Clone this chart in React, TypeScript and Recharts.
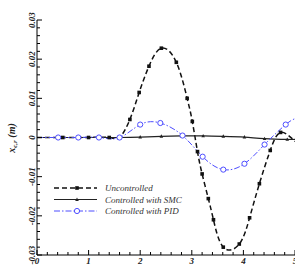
import { Line, LineChart, XAxis, YAxis } from "recharts";

// tick positions (major every 1 / 0.01, minor in between)
const X_TICKS = [0, 0.2, 0.4, 0.6, 0.8, 1, 1.2, 1.4, 1.6, 1.8, 2, 2.2, 2.4, 2.6, 2.8, 3, 3.2, 3.4, 3.6, 3.8, 4, 4.2, 4.4, 4.6, 4.8, 5];
const Y_TICKS = [
    -0.03, -0.028, -0.026, -0.024, -0.022, -0.02, -0.018, -0.016, -0.014, -0.012, -0.01,
    -0.008, -0.006, -0.004, -0.002, 0, 0.002, 0.004, 0.006, 0.008, 0.01,
    0.012, 0.014, 0.016, 0.018, 0.02, 0.022, 0.024, 0.026, 0.028, 0.03,
];

const UNCONTROLLED_T = [0, 0.5, 1.0, 1.4, 1.6, 1.8, 1.98, 2.17, 2.41, 2.7, 2.91, 3.01, 3.11, 3.2, 3.32, 3.42, 3.61, 3.92, 4.12, 4.31, 4.52, 4.72, 5.0];
const UNCONTROLLED_X = [0, 0, 0, 0, 0, 0.0046, 0.0115, 0.0182, 0.0228, 0.0192, 0.01, 0.0041, -0.0036, -0.0093, -0.0156, -0.021, -0.028, -0.0272, -0.0205, -0.0118, -0.0033, 0.0013, -0.001];

const SMC_T = [0, 0.4, 0.8, 1.2, 1.6, 2.0, 2.41, 2.8, 3.22, 3.61, 4.02, 4.41, 4.85, 5.0];
const SMC_X = [0, 0, 0, 0, 0, 0.0001, 0.0003, 0.0004, 0.0004, 0.0003, 0.0001, -0.0003, -0.0005, -0.0005];

const PID_T = [0, 0.41, 0.8, 1.2, 1.6, 2.0, 2.39, 2.82, 3.21, 3.61, 4.02, 4.41, 4.82, 5.0];
const PID_X = [0, 0, 0, 0, 0, 0.0033, 0.0037, 0.0005, -0.0049, -0.0082, -0.0067, -0.0018, 0.0033, 0.0048];

const NAMES = ["Uncontrolled", "Controlled with SMC", "Controlled with PID"];

const toPoints = (t: number[], v: number[]) => t.map((x, i) => ({ x, y: v[i] }));

const FONT = "'Liberation Serif', 'Times New Roman', serif";
const BLUE = "#4d4dff";

const SERIES = [
    { name: NAMES[0], data: toPoints(UNCONTROLLED_T, UNCONTROLLED_X), color: "#111", dash: "5 3", width: 1.5, mark: "square" },
    { name: NAMES[1], data: toPoints(SMC_T, SMC_X), color: "#222", dash: undefined, width: 1.2, mark: "triangle" },
    { name: NAMES[2], data: toPoints(PID_T, PID_X), color: BLUE, dash: "6 2 1.5 2", width: 1, mark: "circle" },
];

function Marker({ kind, cx, cy, color }: { kind: string; cx: number; cy: number; color: string }) {
    if (kind === "square") return <rect x={cx - 1.8} y={cy - 1.8} width={3.6} height={3.6} fill={color} />;
    if (kind === "triangle")
        return <polygon points={`${cx},${cy - 2} ${cx - 1.8},${cy + 1.4} ${cx + 1.8},${cy + 1.4}`} fill={color} />;
    return <circle cx={cx} cy={cy} r={2.6} fill="#fff" stroke={color} strokeWidth={1} />;
}

const isMajor = (v: number, step: number) => Math.abs(v / step - Math.round(v / step)) < 1e-6;

function XTick({ x, y, payload }: any) {
    const major = isMajor(payload.value, 1);
    return (
        <g>
            <line x1={x} y1={y} x2={x} y2={y - (major ? 5 : 3)} stroke="#000" />
            {major && (
                <text x={x} y={y + 9} textAnchor="middle" fontFamily={FONT} fontStyle="italic" fontWeight="bold" fontSize={9} fill="#222">
                    {payload.value}
                </text>
            )}
        </g>
    );
}

function YTick({ x, y, payload }: any) {
    const major = isMajor(payload.value, 0.01);
    const v = payload.value;
    const label = Math.abs(v) < 1e-9 ? "0" : v.toFixed(2);
    return (
        <g>
            <line x1={x} y1={y} x2={x + (major ? 5 : 3)} y2={y} stroke="#000" />
            {major && (
                <text x={x - 2} y={y} transform={`rotate(-90 ${x - 2} ${y})`} textAnchor="middle" fontFamily={FONT} fontStyle="italic" fontWeight="bold" fontSize={9} fill="#222">
                    {label}
                </text>
            )}
        </g>
    );
}

function LegendBox() {
    return (
        <svg width={130} height={36} style={{ position: "absolute", left: 54, top: 183 }}>
            {SERIES.map((s, i) => (
                <g key={s.name}>
                    <line x1={0} y1={5 + i * 11.5} x2={43} y2={5 + i * 11.5} stroke={s.color} strokeWidth={s.width} strokeDasharray={s.dash} />
                    <Marker kind={s.mark} cx={23} cy={5 + i * 11.5} color={s.color} />
                    <text x={51} y={8 + i * 11.5} fontFamily={FONT} fontStyle="italic" fontSize={9} fill="#333">
                        {s.name}
                    </text>
                </g>
            ))}
        </svg>
    );
}

export default function App() {
    return (
        <div style={{ position: "relative", width: 295, height: 266 }}>
            <style>{`body{margin:0}`}</style>
            <LineChart width={295} height={266} margin={{ top: 20, right: 0, bottom: 0, left: 0 }}>
                <XAxis
                    xAxisId="b"
                    dataKey="x"
                    type="number"
                    domain={[0, 5]}
                    ticks={X_TICKS}
                    interval={0}
                    height={11}
                    tickSize={0}
                    tickMargin={0}
                    tickLine={false}
                    tick={<XTick />}
                    stroke="#000"
                    allowDataOverflow
                />
                <XAxis xAxisId="t" orientation="top" dataKey="x" type="number" domain={[0, 5]} height={0} tick={false} tickLine={false} stroke="#888" />
                <YAxis
                    yAxisId="l"
                    type="number"
                    domain={[-0.03, 0.03]}
                    ticks={Y_TICKS}
                    interval={0}
                    width={37}
                    tickSize={0}
                    tickMargin={0}
                    tickLine={false}
                    tick={<YTick />}
                    stroke="#000"
                    allowDataOverflow
                />
                <text x={15} y={138} transform="rotate(-90 15 138)" textAnchor="middle" fontFamily={FONT} fontStyle="italic" fontWeight="bold" fontSize={10} fill="#222">
                    x<tspan fontSize={7} dy={2}>c,r</tspan>
                    <tspan dy={-2}>{"  (m)"}</tspan>
                </text>
                {SERIES.map((s) => (
                    <Line
                        key={s.name}
                        xAxisId="b"
                        yAxisId="l"
                        data={s.data}
                        dataKey="y"
                        name={s.name}
                        type="natural"
                        stroke={s.color}
                        strokeWidth={s.width}
                        strokeDasharray={s.dash}
                        isAnimationActive={false}
                        dot={(p: any) =>
                            p.index === 0 || p.index === s.data.length - 1 ? (
                                <g key={p.index} />
                            ) : (
                                <Marker key={p.index} kind={s.mark} cx={p.cx} cy={p.cy} color={s.color} />
                            )
                        }
                        activeDot={false}
                    />
                ))}
            </LineChart>
            <LegendBox />
        </div>
    );
}
